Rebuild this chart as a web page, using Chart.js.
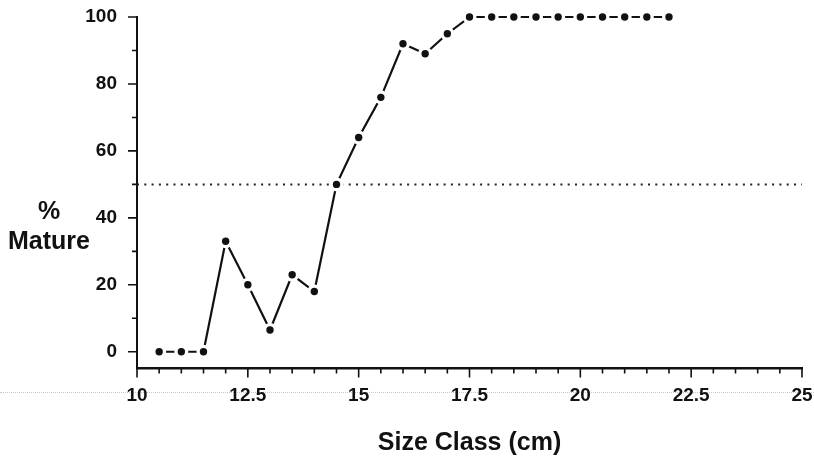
<!DOCTYPE html>
<html>
<head>
<meta charset="utf-8">
<script src="https://cdn.jsdelivr.net/npm/chart.js@4.4.0/dist/chart.umd.min.js"></script>
<style>
  html, body { margin: 0; padding: 0; background: #fff; }
  #wrap { position: relative; width: 814px; height: 460px; }
  #scanline { position: absolute; left: 0; top: 392px; width: 814px; border-top: 1px dotted #c8c8c8; }
  #myChart { position: absolute; left: 0; top: 0; }
</style>
</head>
<body>
<div id="wrap">
  <div id="scanline"></div>
  <canvas id="myChart" width="814" height="460"></canvas>
</div>
<script>
// size class (cm) and percent mature in each class
var sizeClass = [10.5, 11, 11.5, 12, 12.5, 13, 13.5, 14, 14.5, 15, 15.5, 16, 16.5, 17,
                 17.5, 18, 18.5, 19, 19.5, 20, 20.5, 21, 21.5, 22];
var pctMature = [0, 0, 0, 33, 20, 6.5, 23, 18, 50, 64, 76, 92, 89, 95,
                 100, 100, 100, 100, 100, 100, 100, 100, 100, 100];

// 50% maturity reference line
var halfLevel = 50;
var xRange = [10, 25];
var yRange = [-5, 100];

var xTicks = [10, 12.5, 15, 17.5, 20, 22.5, 25];
var yTicks = [0, 20, 40, 60, 80, 100];

var points = sizeClass.map((x, i) => ({ x: x, y: pctMature[i] }));
var halfLine = xRange.map(x => ({ x: x, y: halfLevel }));

var fontFamily = "'Liberation Sans', Arial, sans-serif";
var labelFont = { family: fontFamily, size: 19, weight: 'bold' };

// small tick marks (minor every 0.5 cm / 10 %), drawn outside the axes
const tickMarks = {
    id: 'tickMarks',
    afterDraw(chart) {
        const ctx = chart.ctx;
        const xs = chart.scales.x;
        const ys = chart.scales.y;
        const area = chart.chartArea;
        ctx.save();
        ctx.strokeStyle = '#111';
        ctx.lineWidth = 1.6;
        ctx.beginPath();
        for (let v = xs.min; v <= xs.max + 1e-9; v += 0.5) {
            const px = xs.getPixelForValue(v);
            const major = Math.abs(v / 2.5 - Math.round(v / 2.5)) < 1e-6;
            ctx.moveTo(px, area.bottom);
            ctx.lineTo(px, area.bottom + (major ? 9 : 5));
        }
        for (let v = 0; v <= ys.max + 1e-9; v += 10) {
            const py = ys.getPixelForValue(v);
            const major = v % 20 === 0;
            ctx.moveTo(area.left - (major ? 9 : 5), py);
            ctx.lineTo(area.left, py);
        }
        ctx.stroke();

        // horizontal y axis title
        ctx.fillStyle = '#111';
        ctx.font = 'bold 25px ' + fontFamily;
        ctx.textAlign = 'center';
        ctx.textBaseline = 'middle';
        ctx.fillText('%', 49, 212);
        ctx.fillText('Mature', 49, 242);
        ctx.restore();
    }
};

function noPad(scale) {
    scale.paddingLeft = 0;
    scale.paddingRight = 0;
    scale.paddingTop = 0;
    scale.paddingBottom = 0;
}

var ctx = document.getElementById('myChart').getContext('2d');
var chart = new Chart(ctx, {
    type: 'line',
    data: {
        datasets: [
            {
                // black markers
                data: points,
                showLine: false,
                pointRadius: 3.7,
                pointBackgroundColor: '#111',
                pointBorderWidth: 0,
                clip: false
            },
            {
                // white halo that breaks the line around each marker
                data: points,
                showLine: false,
                pointRadius: 7,
                pointBackgroundColor: '#fff',
                pointBorderWidth: 0,
                clip: false
            },
            {
                data: points,
                borderColor: '#111',
                borderWidth: 2.2,
                pointRadius: 0,
                tension: 0,
                clip: false
            },
            {
                data: halfLine,
                borderColor: '#222',
                borderWidth: 2,
                borderDash: [2, 5.3],
                pointRadius: 0,
                clip: false
            }
        ]
    },
    plugins: [tickMarks],
    options: {
        responsive: false,
        devicePixelRatio: 1,
        animation: false,
        layout: { padding: { top: 17, right: 12, left: 0, bottom: 0 } },
        plugins: {
            legend: { display: false },
            tooltip: { enabled: false }
        },
        scales: {
            x: {
                type: 'linear',
                min: xRange[0],
                max: xRange[1],
                afterBuildTicks: (scale) => { scale.ticks = xTicks.map(v => ({ value: v })); },
                afterFit: (scale) => { scale.height = 91.5; noPad(scale); },
                grid: { display: true, drawOnChartArea: false, drawTicks: false },
                border: { display: true, color: '#111', width: 2.5 },
                ticks: {
                    color: '#111',
                    font: labelFont,
                    padding: 16,
                    maxRotation: 0,
                    autoSkip: false,
                    callback: (v) => String(v)
                },
                title: {
                    display: true,
                    text: 'Size Class (cm)',
                    color: '#111',
                    font: { family: fontFamily, size: 25, weight: 'bold' },
                    padding: { top: 0, bottom: 2 }
                }
            },
            y: {
                type: 'linear',
                min: yRange[0],
                max: yRange[1],
                afterBuildTicks: (scale) => { scale.ticks = yTicks.map(v => ({ value: v })); },
                afterFit: (scale) => { scale.width = 137; noPad(scale); },
                grid: { display: true, drawOnChartArea: false, drawTicks: false },
                border: { display: true, color: '#111', width: 2 },
                ticks: {
                    color: '#111',
                    font: labelFont,
                    padding: 20,
                    autoSkip: false,
                    callback: (v) => String(v)
                }
            }
        }
    }
});
</script>
</body>
</html>
